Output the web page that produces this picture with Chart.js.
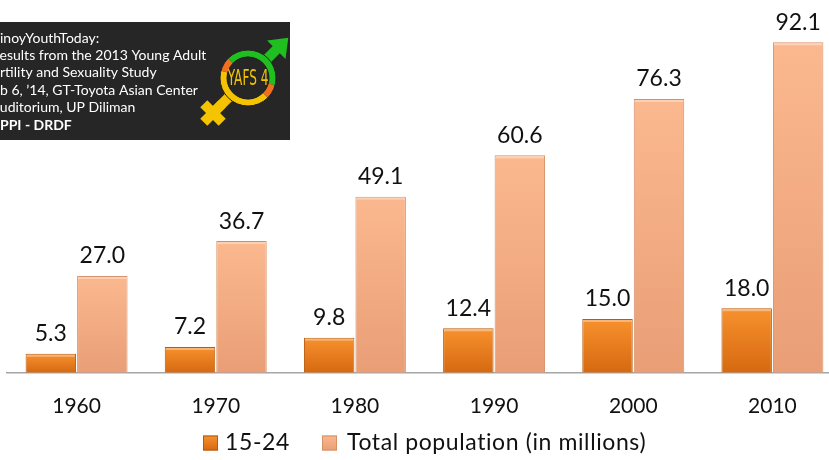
<!DOCTYPE html>
<html>
<head>
<meta charset="utf-8">
<script src="https://cdn.jsdelivr.net/npm/chart.js@4/dist/chart.umd.min.js"></script>
<style>
html,body{margin:0;padding:0;background:#fff;overflow:hidden;}
#wrap{position:absolute;left:0;top:0;width:842px;height:460px;}
</style>
</head>
<body>
<div id="wrap"><canvas id="c" width="842" height="460"></canvas></div>
<script>
const categories = ['1960','1970','1980','1990','2000','2010'];
const youth15to24 = [5.3, 7.2, 9.8, 12.4, 15.0, 18.0];
const totalPopulation = [27.0, 36.7, 49.1, 60.6, 76.3, 92.1];
const seriesNames = ['15-24', 'Total population (in millions)'];
const boxLines = [
  ['#P', 'inoyYouthToday:', false],
  ['R', 'esults from the 2013 Young Adult', false],
  ['Fe', 'rtility and Sexuality Study', false],
  ['Fe', 'b 6, \u201914, GT-Toyota Asian Center', false],
  ['A', 'uditorium, UP Diliman', false],
  ['U', 'PPI - DRDF', true]
];

const FONT = 'Lato, "Open Sans", sans-serif';
const ORANGE = ['#F7912E', '#D66910', '#B85A0C'];
const PEACH = ['#FBB88E', '#E99E76', '#D69068'];

function grad(cols) {
  return (ctx) => {
    const chart = ctx.chart;
    if (!chart.chartArea || ctx.type !== 'data' || !chart.scales.y) return cols[0];
    const y = chart.scales.y;
    const top = y.getPixelForValue(ctx.raw);
    const bot = y.getPixelForValue(0);
    const g = chart.ctx.createLinearGradient(0, top, 0, bot);
    g.addColorStop(0, cols[0]);
    g.addColorStop(1, cols[1]);
    return g;
  };
}

const labelPlugin = {
  id: 'valueLabels',
  afterDatasetsDraw(chart) {
    const ctx = chart.ctx;
    ctx.save();
    chart.data.datasets.forEach((ds, di) => {
      const meta = chart.getDatasetMeta(di);
      meta.data.forEach((bar) => {
        const w = bar.width;
        ctx.fillStyle = 'rgba(255,255,255,0.35)';
        ctx.fillRect(bar.x - w / 2 + 1, bar.y + 1, w - 2, 2);
      });
    });
    ctx.font = '23px ' + FONT;
    ctx.fillStyle = '#111';
    ctx.textAlign = 'center';
    ctx.textBaseline = 'middle';
    chart.data.datasets.forEach((ds, di) => {
      const meta = chart.getDatasetMeta(di);
      meta.data.forEach((bar, i) => {
        ctx.fillText(ds.data[i].toFixed(1), bar.x, bar.y - 20);
      });
    });
    ctx.restore();
  }
};

const legendPlugin = {
  id: 'customLegend',
  afterDraw(chart) {
    const ctx = chart.ctx;
    ctx.save();
    const xs = [203, 322];
    const tx = [225, 347];
    const cy = 443;
    ctx.font = '23px ' + FONT;
    try { ctx.letterSpacing = '0.6px'; } catch (e) {}
    ctx.textBaseline = 'middle';
    ctx.textAlign = 'left';
    chart.data.datasets.forEach((ds, i) => {
      const cols = i === 0 ? ORANGE : PEACH;
      const g = ctx.createLinearGradient(0, cy - 7.5, 0, cy + 7.5);
      g.addColorStop(0, cols[0]); g.addColorStop(1, cols[1]);
      ctx.fillStyle = g;
      ctx.fillRect(xs[i], cy - 7.5, 15, 15);
      ctx.strokeStyle = cols[2];
      ctx.lineWidth = 1;
      ctx.strokeRect(xs[i] + 0.5, cy - 7, 14, 14);
      ctx.fillStyle = '#111';
      ctx.fillText(ds.label, tx[i], cy);
    });
    ctx.restore();
  }
};

const boxPlugin = {
  id: 'infoBox',
  afterDraw(chart) {
    const ctx = chart.ctx;
    ctx.save();
    ctx.fillStyle = '#262626';
    ctx.fillRect(0, 22, 290, 118);
    ctx.textBaseline = 'middle';
    ctx.textAlign = 'left';
    const fs = 14;
    ctx.fillStyle = '#ffffff';
    boxLines.forEach((ln, i) => {
      ctx.font = (ln[2] ? 'bold ' : '') + fs + 'px ' + FONT;
      const pre = ctx.measureText(ln[0]).width;
      ctx.fillText(ln[0] + ln[1], 0 - pre, 38 + i * 17.4);
    });
    // logo
    const cx = 248, cy = 78, ro = 28, ri = 21;
    const deg = Math.PI / 180;
    ctx.fillStyle = '#F5C400';
    ctx.save();
    ctx.translate(cx, cy);
    ctx.rotate(135 * deg);
    ctx.fillRect(ro - 2, -5, 20, 10);
    ctx.restore();
    ctx.save();
    ctx.translate(213, 113);
    ctx.rotate(45 * deg);
    ctx.fillRect(-13, -5, 26, 10);
    ctx.fillRect(-5, -13, 10, 26);
    ctx.restore();
    ctx.fillStyle = '#1FBF1F';
    ctx.save();
    ctx.translate(cx, cy);
    ctx.rotate(-45 * deg);
    ctx.fillRect(ro - 2, -5, 16, 10);
    ctx.beginPath();
    ctx.moveTo(ro + 12, -13);
    ctx.lineTo(ro + 29, 0);
    ctx.lineTo(ro + 12, 13);
    ctx.closePath();
    ctx.fill();
    ctx.restore();
    const seg = (a0, a1, col) => {
      ctx.beginPath();
      ctx.arc(cx, cy, ro, a0 * deg, a1 * deg);
      ctx.arc(cx, cy, ri, a1 * deg, a0 * deg, true);
      ctx.closePath();
      ctx.fillStyle = col;
      ctx.fill();
    };
    seg(45, 195, '#F5C400');
    seg(195, 225, '#F0701E');
    seg(225, 375, '#1FBF1F');
    seg(15, 45, '#F0701E');
    ctx.fillStyle = '#262626';
    ctx.beginPath();
    ctx.arc(cx, cy, ri, 0, Math.PI * 2);
    ctx.fill();
    ctx.strokeStyle = '#222';
    ctx.lineWidth = 1;
    ctx.beginPath(); ctx.arc(cx, cy, ro, 0, Math.PI * 2); ctx.stroke();
    ctx.beginPath(); ctx.arc(cx, cy, ri, 0, Math.PI * 2); ctx.stroke();
    ctx.save();
    ctx.translate(cx, cy + 1);
    ctx.scale(0.55, 1);
    ctx.font = '22px "DejaVu Sans", sans-serif';
    ctx.fillStyle = '#F5C400';
    ctx.textAlign = 'center';
    ctx.textBaseline = 'middle';
    ctx.fillText('YAFS 4', 0, 0);
    ctx.restore();
    ctx.restore();
  }
};

new Chart(document.getElementById('c'), {
  type: 'bar',
  data: {
    labels: categories,
    datasets: [
      {
        label: seriesNames[0],
        data: youth15to24,
        backgroundColor: grad(ORANGE),
        borderColor: ORANGE[2],
        borderWidth: 1,
        barPercentage: 0.98,
        categoryPercentage: 0.74
      },
      {
        label: seriesNames[1],
        data: totalPopulation,
        backgroundColor: grad(PEACH),
        borderColor: PEACH[2],
        borderWidth: 1,
        barPercentage: 0.98,
        categoryPercentage: 0.74
      }
    ]
  },
  options: {
    responsive: false,
    animation: false,
    devicePixelRatio: 1,
    layout: { padding: { top: 14, left: 7, right: 0, bottom: 20 } },
    plugins: { legend: { display: false }, tooltip: { enabled: false } },
    scales: {
      x: {
        grid: { display: false, drawTicks: false },
        border: { display: true, color: '#A6A6A6', width: 1.5 },
        ticks: { color: '#111', font: { family: FONT, size: 21 }, padding: 21 }
      },
      y: { display: false, min: 0, max: 100 }
    }
  },
  plugins: [labelPlugin, legendPlugin, boxPlugin]
});
</script>
</body>
</html>
